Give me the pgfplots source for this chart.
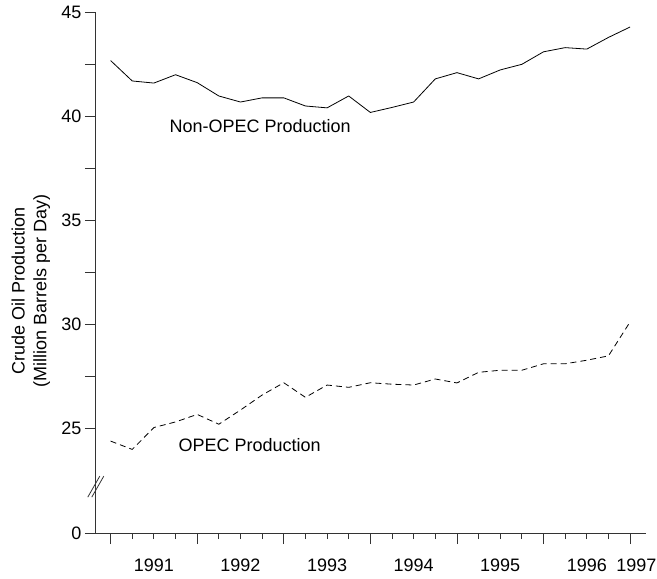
\documentclass[border=0pt]{standalone}
\usepackage{fontspec}
\setmainfont{Liberation Sans}
\usepackage{pgfplots}
\pgfplotsset{compat=1.18}
\begin{document}
\begin{tikzpicture}
\begin{axis}[
  at={(0pt,0pt)}, anchor=south west,
  scale only axis, width=549.8pt, height=521pt,
  font=\fontsize{18}{21.7}\selectfont,
  /pgf/number format/assume math mode=true,
  clip=false,
  xmin=1990.829, xmax=1997.179, ymin=20, ymax=45,
  axis x line*=bottom, axis y line*=left,
  axis line style={line width=0.8pt, draw=black!80},
  tick align=outside,
  major tick length=11pt, minor tick length=6pt,
  tick style={line width=0.8pt, draw=black!80},
  xtick={1991,1992,1993,1994,1995,1996,1997},
  xticklabels={,,,,,,},
  minor x tick num=3,
  extra x ticks={1991.5,1992.5,1993.5,1994.5,1995.5,1996.5,1997.073},
  extra x tick labels={1991,1992,1993,1994,1995,1996,1997},
  extra x tick style={grid=none, major tick length=0pt, xticklabel style={yshift=-22pt}},
  ytick={20,25,30,35,40,45},
  yticklabels={0,25,30,35,40,45},
  extra y ticks={27.5,32.5,37.5,42.5},
  extra y tick labels={},
  extra y tick style={grid=none},
  ylabel={Crude Oil Production\\(Million Barrels per Day)},
  ylabel style={align=center, at={(axis description cs:-0.1182,0.4645)}, anchor=center},
]
\addplot[black, line width=0.8pt] coordinates {
(1991.00,42.67) (1991.25,41.69) (1991.50,41.59) (1991.75,41.99)
(1992.00,41.61) (1992.25,40.97) (1992.50,40.68) (1992.75,40.88)
(1993.00,40.88) (1993.25,40.49) (1993.50,40.40) (1993.75,40.97)
(1994.00,40.18) (1994.25,40.42) (1994.50,40.68) (1994.75,41.79)
(1995.00,42.09) (1995.25,41.79) (1995.50,42.22) (1995.75,42.49)
(1996.00,43.09) (1996.25,43.29) (1996.50,43.22) (1996.75,43.78)
(1997.00,44.28)
};
\addplot[black, line width=0.8pt, dash pattern=on 6pt off 4pt] coordinates {
(1991.00,24.41) (1991.25,24.01) (1991.50,25.06) (1991.75,25.33)
(1992.00,25.69) (1992.25,25.22) (1992.50,25.90) (1992.75,26.62)
(1993.00,27.21) (1993.25,26.51) (1993.50,27.10) (1993.75,26.99)
(1994.00,27.21) (1994.25,27.14) (1994.50,27.10) (1994.75,27.39)
(1995.00,27.20) (1995.25,27.71) (1995.50,27.81) (1995.75,27.81)
(1996.00,28.12) (1996.25,28.12) (1996.50,28.29) (1996.75,28.50)
(1997.00,30.13)
};
\node[anchor=west, inner sep=0pt] at (axis cs:1991.678,39.55) {Non-OPEC Production};
\node[anchor=west, inner sep=0pt] at (axis cs:1991.782,24.22) {OPEC Production};
\draw[line width=0.8pt, black!80] ([xshift=-8pt,yshift=-10pt]axis cs:1990.829,22.2) -- ([xshift=4pt,yshift=11pt]axis cs:1990.829,22.2);
\draw[line width=0.8pt, black!80] ([xshift=-4pt,yshift=-10pt]axis cs:1990.829,22.2) -- ([xshift=8pt,yshift=11pt]axis cs:1990.829,22.2);
\end{axis}
\pgfresetboundingbox
\path[use as bounding box] (-95.8pt,-46pt) rectangle (561.2pt,533pt);
\end{tikzpicture}
\end{document}
